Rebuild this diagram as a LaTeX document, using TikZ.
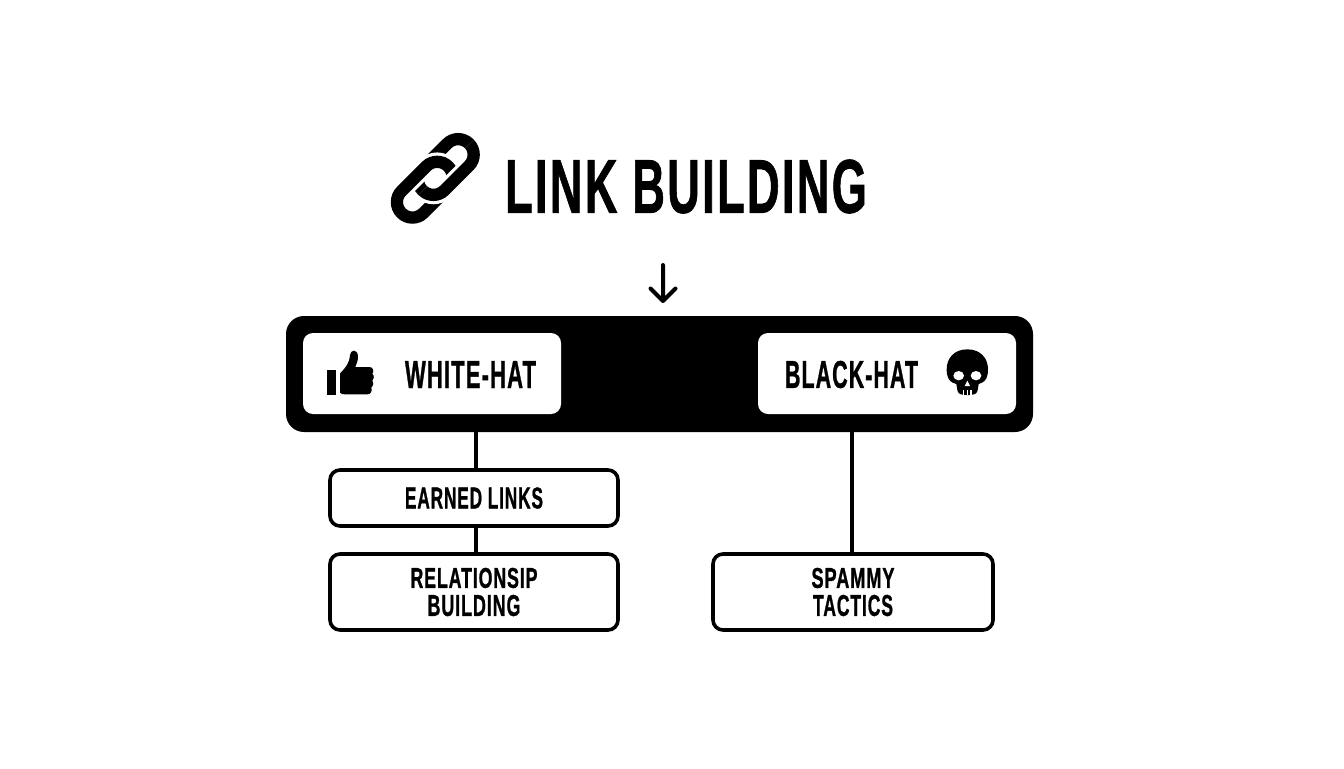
\documentclass[tikz,border=0pt]{standalone}
\usepackage{fontspec}
\usepackage{graphicx}
\setmainfont{Liberation Sans}[BoldFeatures={FakeBold=1.2,LetterSpace=5}]
\newdimen\pxunit
\pxunit=0.75pt
\newcommand{\fitcaps}[3]{\resizebox{#1\pxunit}{#2\pxunit}{\bfseries #3}}
\tikzset{
  px/.style={x=0.75pt,y=-0.75pt},
  barbox/.style={fill=black,draw=none,rounded corners=13.5pt,minimum width=560.25pt,minimum height=87pt,inner sep=0pt},
  hatbox/.style={fill=white,draw=none,rounded corners=7.5pt,minimum width=193.5pt,minimum height=60.75pt,inner sep=0pt},
  itembox/.style={draw=black,fill=white,line width=2.7pt,rounded corners=7.5pt,inner sep=0pt,align=center,font=\fontsize{16pt}{21pt}\selectfont},
  conn/.style={draw=black,line width=2.7pt},
  label/.style={inner sep=0pt,outer sep=0pt},
  linkring/.style={draw=black,line width=9.2pt,rounded corners=11.6pt},
  linkhalo/.style={draw=white,line width=14pt,rounded corners=11.6pt},
}
\begin{document}
\begin{tikzpicture}[px]
\useasboundingbox (0,0) rectangle (1344,768);
\fill[white] (0,0) rectangle (1344,768);

% chain icon
\begin{scope}[shift={(445.8,167)},rotate=45]
  \draw[linkring] (-33,-15.5) rectangle (33,15.5);
\end{scope}
\begin{scope}[shift={(424.8,189.7)},rotate=45]
  \draw[linkhalo] (-33,-15.5) rectangle (33,15.5);
  \draw[linkring] (-33,-15.5) rectangle (33,15.5);
\end{scope}
\begin{scope}[shift={(435.3,178.3)},rotate=45]
  \clip (-60,0) rectangle (60,60);
  \begin{scope}[rotate=-45,shift={(10.5,-11.3)},rotate=45]
    \draw[linkhalo] (-33,-15.5) rectangle (33,15.5);
    \draw[linkring] (-33,-15.5) rectangle (33,15.5);
  \end{scope}
\end{scope}

\node[label] (title) at (686,186.5) {\fitcaps{362}{53}{LINK BUILDING}};

% arrow
\coordinate (arrowtop) at (663,265);
\node[barbox] (bar) at (659.5,374) {};
\draw[line width=3pt,line cap=round,line join=round] (arrowtop) -- (663,301) (650.5,288.5) -- (663,301) -- (675.5,288.5);

\node[hatbox] (white) at (432,373.5) {};
\node[hatbox] (black) at (887,373.5) {};
\node[label] (whitetxt) at (470.5,374.5) {\fitcaps{131}{27}{WHITE-HAT}};
\node[label] (blacktxt) at (851.5,374.5) {\fitcaps{133}{27}{BLACK-HAT}};

% thumb icon
\begin{scope}[shift={(280,310)},scale=1/3]
  \fill (142,180) rectangle (168,255);
  \fill (180,248) -- (180,190) .. controls (198,172) and (208,160) .. (210,135)
    .. controls (212,118) and (232,116) .. (234,138)
    .. controls (235,150) and (230,160) .. (226,171)
    -- (268,171) .. controls (280,171) and (283,184) .. (277,191)
    .. controls (284,198) and (282,208) .. (277,212)
    .. controls (282,220) and (280,230) .. (274,233)
    .. controls (278,243) and (272,253) .. (262,253)
    -- (195,253) .. controls (188,253) and (184,252) .. (180,248) -- cycle;
\end{scope}

% skull icon
\begin{scope}[shift={(750,310)},scale=1/3]
  \fill (652,118) .. controls (692,118) and (714,145) .. (714,178)
    .. controls (714,200) and (708,212) .. (696,218)
    -- (686,222) .. controls (684,232) and (684,245) .. (678,250)
    .. controls (670,257) and (635,257) .. (627,250)
    .. controls (621,245) and (621,232) .. (619,222)
    -- (608,218) .. controls (596,212) and (590,200) .. (590,178)
    .. controls (590,145) and (612,118) .. (652,118) -- cycle;
  \fill[white] (626,197) ellipse [x radius=16,y radius=14];
  \fill[white] (678,197) ellipse [x radius=16,y radius=14];
  \fill[white] (652,212) -- (660,228) -- (644,228) -- cycle;
  \draw[white,line width=0.9pt] (641,240) -- (641,256) (652,240) -- (652,256) (663,240) -- (663,256);
\end{scope}

% item boxes
\node[itembox,minimum width=216pt,minimum height=42pt] (earned) at (474,498)
  {\fitcaps{138}{21}{EARNED LINKS}};
\node[itembox,minimum width=216pt,minimum height=57pt] (relation) at (474,592)
  {\fitcaps{127}{20}{RELATIONSIP}\\\fitcaps{93}{21}{BUILDING}};
\node[itembox,minimum width=210pt,minimum height=57pt] (spammy) at (853,592)
  {\fitcaps{83}{20}{SPAMMY}\\\fitcaps{80}{21}{TACTICS}};

% connectors
\coordinate (wx) at (476,450);
\coordinate (bx) at (852,450);
\draw[conn] (bar.south -| wx) -- (earned.north -| wx);
\draw[conn] (earned.south -| wx) -- (relation.north -| wx);
\draw[conn] (bar.south -| bx) -- (spammy.north -| bx);
\end{tikzpicture}
\end{document}
